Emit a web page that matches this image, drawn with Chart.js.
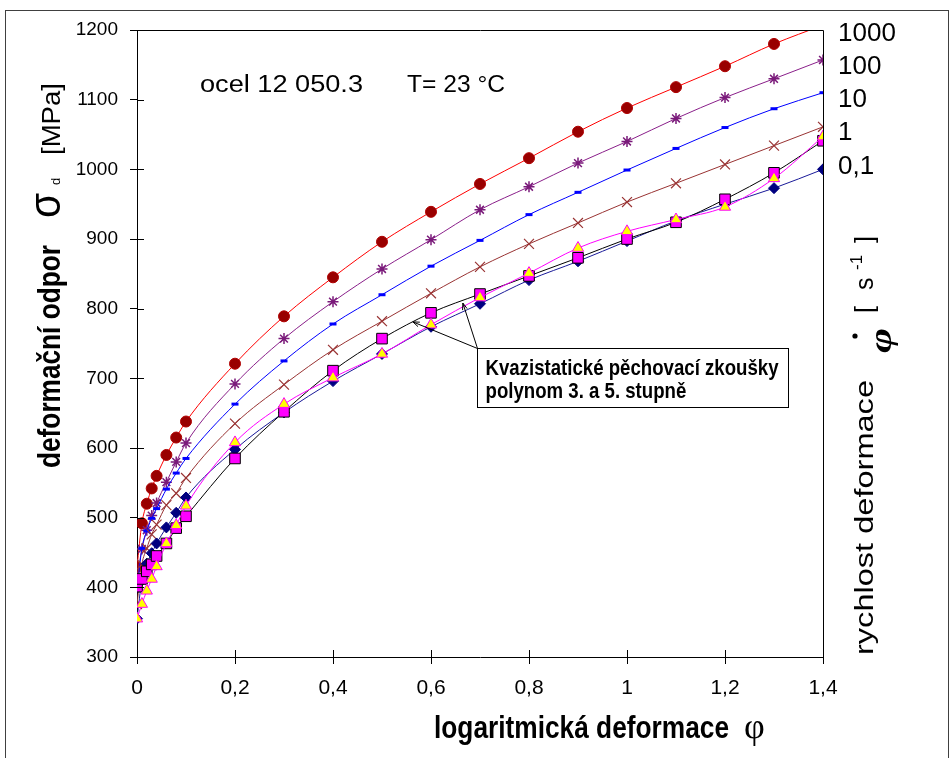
<!DOCTYPE html>
<html><head><meta charset="utf-8">
<script src="https://cdn.jsdelivr.net/npm/chart.js@4/dist/chart.umd.min.js"></script>
<style>html,body{margin:0;padding:0;background:#fff;overflow:hidden}canvas{display:block}</style>
</head><body>
<canvas id="c" width="951" height="758"></canvas>
<script>
// ---- data ----
const strain   = [0, 0.01, 0.02, 0.03, 0.04, 0.06, 0.08, 0.1, 0.2, 0.3, 0.4, 0.5, 0.6, 0.7, 0.8, 0.9, 1.0, 1.1, 1.2, 1.3, 1.4];
const rate1000 = [429, 492, 520, 542, 560, 590, 615, 638, 721, 789, 845, 896, 939, 979, 1016, 1054, 1088, 1118, 1148, 1180, 1207];
const rate100  = [413, 455, 482, 503, 521, 551, 580, 607, 692, 757, 810, 857, 899, 942, 975, 1009, 1040, 1073, 1103, 1130, 1157];
const rate10   = [395, 456, 481, 499, 513, 541, 564, 585, 663, 725, 778, 820, 861, 898, 935, 967, 999, 1030, 1060, 1087, 1110];
const rate1    = [376, 433, 456, 476, 490, 518, 535, 557, 635, 691, 741, 782, 822, 860, 893, 923, 953, 980, 1007, 1034, 1061];
const rate01   = [355, 410, 434, 449, 463, 486, 507, 529, 598, 651, 696, 735, 774, 807, 841, 868, 897, 926, 950, 973, 1000];
const poly3    = [401, 412, 423, 433, 445, 463, 485, 502, 585, 652, 711, 757, 794, 821, 847, 873, 900, 924, 957, 995, 1041];
const poly5    = [355, 376, 395, 412, 430, 463, 489, 517, 608, 663, 701, 735, 777, 816, 851, 887, 911, 928, 946, 987, 1047];
const rateLabels = ['1000', '100', '10', '1', '0,1'];
const titleText = ['ocel 12 050.3', 'T= 23 °C'];
const noteLines = ['Kvazistatické pěchovací zkoušky', 'polynom 3. a 5. stupně'];

// ---- layout / style constants ----
const FONT = '"Liberation Sans", Arial, sans-serif';
const SERIF = '"Liberation Serif", "DejaVu Serif", serif';
const rateLabelPos = [1195, 1147, 1100, 1053, 1004];
const note = { x0: 0.694, y0: 744, x1: 1.329, y1: 659, tips: [[0.563, 781], [0.665, 808]] };

const pts = arr => strain.map((x, i) => ({ x: x, y: arr[i] }));

function drawText(ctx, str, font, x, y, o) {
  o = o || {};
  ctx.save();
  ctx.font = font;
  ctx.fillStyle = o.color || '#000';
  ctx.textBaseline = o.baseline || 'alphabetic';
  ctx.textAlign = 'left';
  ctx.translate(x, y);
  if (o.rot) ctx.rotate(o.rot);
  if (o.dy) ctx.translate(0, o.dy);
  const m = ctx.measureText(str).width;
  const sx = o.w ? o.w / m : (o.sx || 1);
  const tw = m * sx;
  let dx = 0;
  if (o.align === 'center') dx = -tw / 2; else if (o.align === 'right') dx = -tw;
  ctx.translate(dx, 0);
  ctx.scale(sx, 1);
  ctx.fillText(str, 0, 0);
  ctx.restore();
  return sx;
}

const decor = {
  id: 'decor',
  beforeDraw(chart) {
    const ctx = chart.ctx;
    ctx.save();
    ctx.fillStyle = '#fff';
    ctx.fillRect(0, 0, chart.width, chart.height);
    ctx.strokeStyle = '#404040';
    ctx.lineWidth = 1;
    ctx.strokeRect(5.5, 10.5, 943, 760);
    ctx.restore();
  },
  afterDraw(chart) {
    const ctx = chart.ctx, a = chart.chartArea;
    const xs = chart.scales.x, ys = chart.scales.y;
    ctx.save();
    ctx.strokeStyle = '#000';
    ctx.lineWidth = 1;
    // plot frame top/right
    ctx.beginPath();
    ctx.moveTo(Math.round(a.left) + 0.5, Math.round(a.top) + 0.5);
    ctx.lineTo(Math.round(a.right) + 0.5, Math.round(a.top) + 0.5);
    ctx.lineTo(Math.round(a.right) + 0.5, Math.round(a.bottom) + 0.5);
    ctx.stroke();
    // inner halves of cross ticks
    ctx.beginPath();
    ys.ticks.forEach(t => {
      const py = Math.round(ys.getPixelForValue(t.value)) + 0.5;
      ctx.moveTo(a.left, py); ctx.lineTo(a.left + 7, py);
    });
    xs.ticks.forEach(t => {
      const px = Math.round(xs.getPixelForValue(t.value)) + 0.5;
      ctx.moveTo(px, a.bottom); ctx.lineTo(px, a.bottom - 7);
    });
    ctx.stroke();

    // annotation box with leader lines
    const bx0 = Math.round(xs.getPixelForValue(note.x0)) + 0.5, by0 = Math.round(ys.getPixelForValue(note.y0)) + 0.5;
    const bx1 = Math.round(xs.getPixelForValue(note.x1)) + 0.5, by1 = Math.round(ys.getPixelForValue(note.y1)) + 0.5;
    note.tips.forEach(tp => {
      const tx = xs.getPixelForValue(tp[0]), ty = ys.getPixelForValue(tp[1]);
      ctx.beginPath(); ctx.moveTo(bx0, by0); ctx.lineTo(tx, ty); ctx.stroke();
      const ang = Math.atan2(by0 - ty, bx0 - tx);
      ctx.beginPath();
      ctx.moveTo(tx + 7 * Math.cos(ang + 0.35), ty + 7 * Math.sin(ang + 0.35));
      ctx.lineTo(tx, ty);
      ctx.lineTo(tx + 7 * Math.cos(ang - 0.35), ty + 7 * Math.sin(ang - 0.35));
      ctx.stroke();
    });
    ctx.fillStyle = '#fff';
    ctx.fillRect(bx0, by0, bx1 - bx0, by1 - by0);
    ctx.strokeRect(bx0, by0, bx1 - bx0, by1 - by0);
    const sxNote = drawText(ctx, noteLines[0], 'bold 22px ' + FONT, bx0 + 8, by0 + 26, { w: 293 });
    drawText(ctx, noteLines[1], 'bold 22px ' + FONT, bx0 + 8, by0 + 49, { sx: sxNote });

    // title inside plot
    drawText(ctx, titleText[0], '23px ' + FONT, 200, 92, { w: 163 });
    drawText(ctx, titleText[1], '23px ' + FONT, 407, 92, { w: 98 });

    // strain-rate labels on the right
    rateLabels.forEach((s, i) => {
      drawText(ctx, s, '26px ' + FONT, 838, ys.getPixelForValue(rateLabelPos[i]), { baseline: 'middle' });
    });

    // x axis title
    drawText(ctx, 'logaritmická deformace', 'bold 32px ' + FONT, 434, 738, { w: 295 });
    drawText(ctx, 'φ', '36px ' + SERIF, 744, 738, {});

    // left axis title (rotated)
    const R = -Math.PI / 2;
    const lx = 60, ly = 468;
    drawText(ctx, 'deformační odpor', 'bold 32px ' + FONT, lx, ly, { rot: R, w: 223 });
    drawText(ctx, 'σ', '44px ' + FONT, lx, ly - 250, { rot: R, w: 25 });
    drawText(ctx, 'd', '13px ' + FONT, lx, ly - 283, { rot: R });
    drawText(ctx, '[MPa]', '26px ' + FONT, lx, ly - 313, { rot: R, w: 72 });

    // right axis title (rotated)
    const rx = 873, ry = 655;
    drawText(ctx, 'rychlost deformace', '25px ' + FONT, rx, ry, { rot: R, w: 275 });
    drawText(ctx, 'φ', 'italic bold 32px ' + SERIF, rx, ry - 302, { rot: R, w: 25, baseline: 'middle', dy: 10 });
    ctx.fillStyle = '#000';
    ctx.beginPath(); ctx.arc(855, 336, 2.6, 0, Math.PI * 2); ctx.fill();
    drawText(ctx, '[', '25px ' + FONT, rx, ry - 342, { rot: R });
    drawText(ctx, 's', '25px ' + FONT, rx, ry - 365, { rot: R });
    drawText(ctx, '-1', '17px ' + FONT, rx, ry - 385, { rot: R, dy: -11 });
    drawText(ctx, ']', '25px ' + FONT, rx, ry - 412, { rot: R });
    ctx.restore();
  }
};

const base = { showLine: true, borderWidth: 1, cubicInterpolationMode: 'monotone', tension: 0.4, fill: false };

const datasets = [
  Object.assign({}, base, { label: '1000', data: pts(rate1000), order: 7, borderColor: '#FF0000', pointStyle: 'circle', pointRadius: 5.5, pointBackgroundColor: '#990000', pointBorderColor: '#B00000', pointBorderWidth: 1 }),
  Object.assign({}, base, { label: '100', data: pts(rate100), order: 6, borderColor: '#8A1F8A', pointStyle: 'star', pointRadius: 5.5, pointBorderColor: '#7A1A7A', pointBackgroundColor: '#7A1A7A', pointBorderWidth: 1.5 }),
  Object.assign({}, base, { label: '10', data: pts(rate10), order: 5, borderColor: '#0000FF', pointStyle: 'line', pointRadius: 3.5, pointBorderColor: '#0000FF', pointBorderWidth: 3 }),
  Object.assign({}, base, { label: '1', data: pts(rate1), order: 4, borderColor: '#993333', pointStyle: 'crossRot', pointRadius: 7, pointBorderColor: '#993333', pointBorderWidth: 1.2 }),
  Object.assign({}, base, { label: '0,1', data: pts(rate01), order: 3, borderColor: '#1A1A99', pointStyle: 'rectRot', pointRadius: 5.5, pointBackgroundColor: '#000080', pointBorderColor: '#000080', pointBorderWidth: 1 }),
  Object.assign({}, base, { label: 'polynom 3', data: pts(poly3), order: 2, borderColor: '#000000', pointStyle: 'rect', pointRadius: 7.5, pointBackgroundColor: '#FF00FF', pointBorderColor: '#000000', pointBorderWidth: 1 }),
  Object.assign({}, base, { label: 'polynom 5', data: pts(poly5), order: 1, borderColor: '#FF00FF', pointStyle: 'triangle', pointRadius: 6.5, pointBackgroundColor: '#FFFF00', pointBorderColor: '#FF00FF', pointBorderWidth: 1 })
];

new Chart(document.getElementById('c'), {
  type: 'scatter',
  data: { datasets: datasets },
  options: {
    responsive: false,
    animation: false,
    devicePixelRatio: 1,
    layout: { padding: { left: 0, top: 30, right: 128, bottom: 0 } },
    plugins: { legend: { display: false }, tooltip: { enabled: false } },
    scales: {
      x: {
        type: 'linear', min: 0, max: 1.4,
        afterFit: s => { s.height = 101; },
        ticks: { stepSize: 0.2, color: '#000', padding: 12, font: { family: FONT, size: 21 },
          callback: v => String(Math.round(v * 10) / 10).replace('.', ',') },
        grid: { drawOnChartArea: false, drawTicks: true, tickLength: 7, color: '#000', lineWidth: 1 },
        border: { display: true, color: '#000', width: 1 }
      },
      y: {
        type: 'linear', min: 300, max: 1200,
        afterFit: s => { s.width = 137; },
        ticks: { stepSize: 100, color: '#000', padding: 12, font: { family: FONT, size: 19 },
          callback: v => String(Math.round(v)) },
        grid: { drawOnChartArea: false, drawTicks: true, tickLength: 7, color: '#000', lineWidth: 1 },
        border: { display: true, color: '#000', width: 1 }
      }
    }
  },
  plugins: [decor]
});
</script>
</body></html>
